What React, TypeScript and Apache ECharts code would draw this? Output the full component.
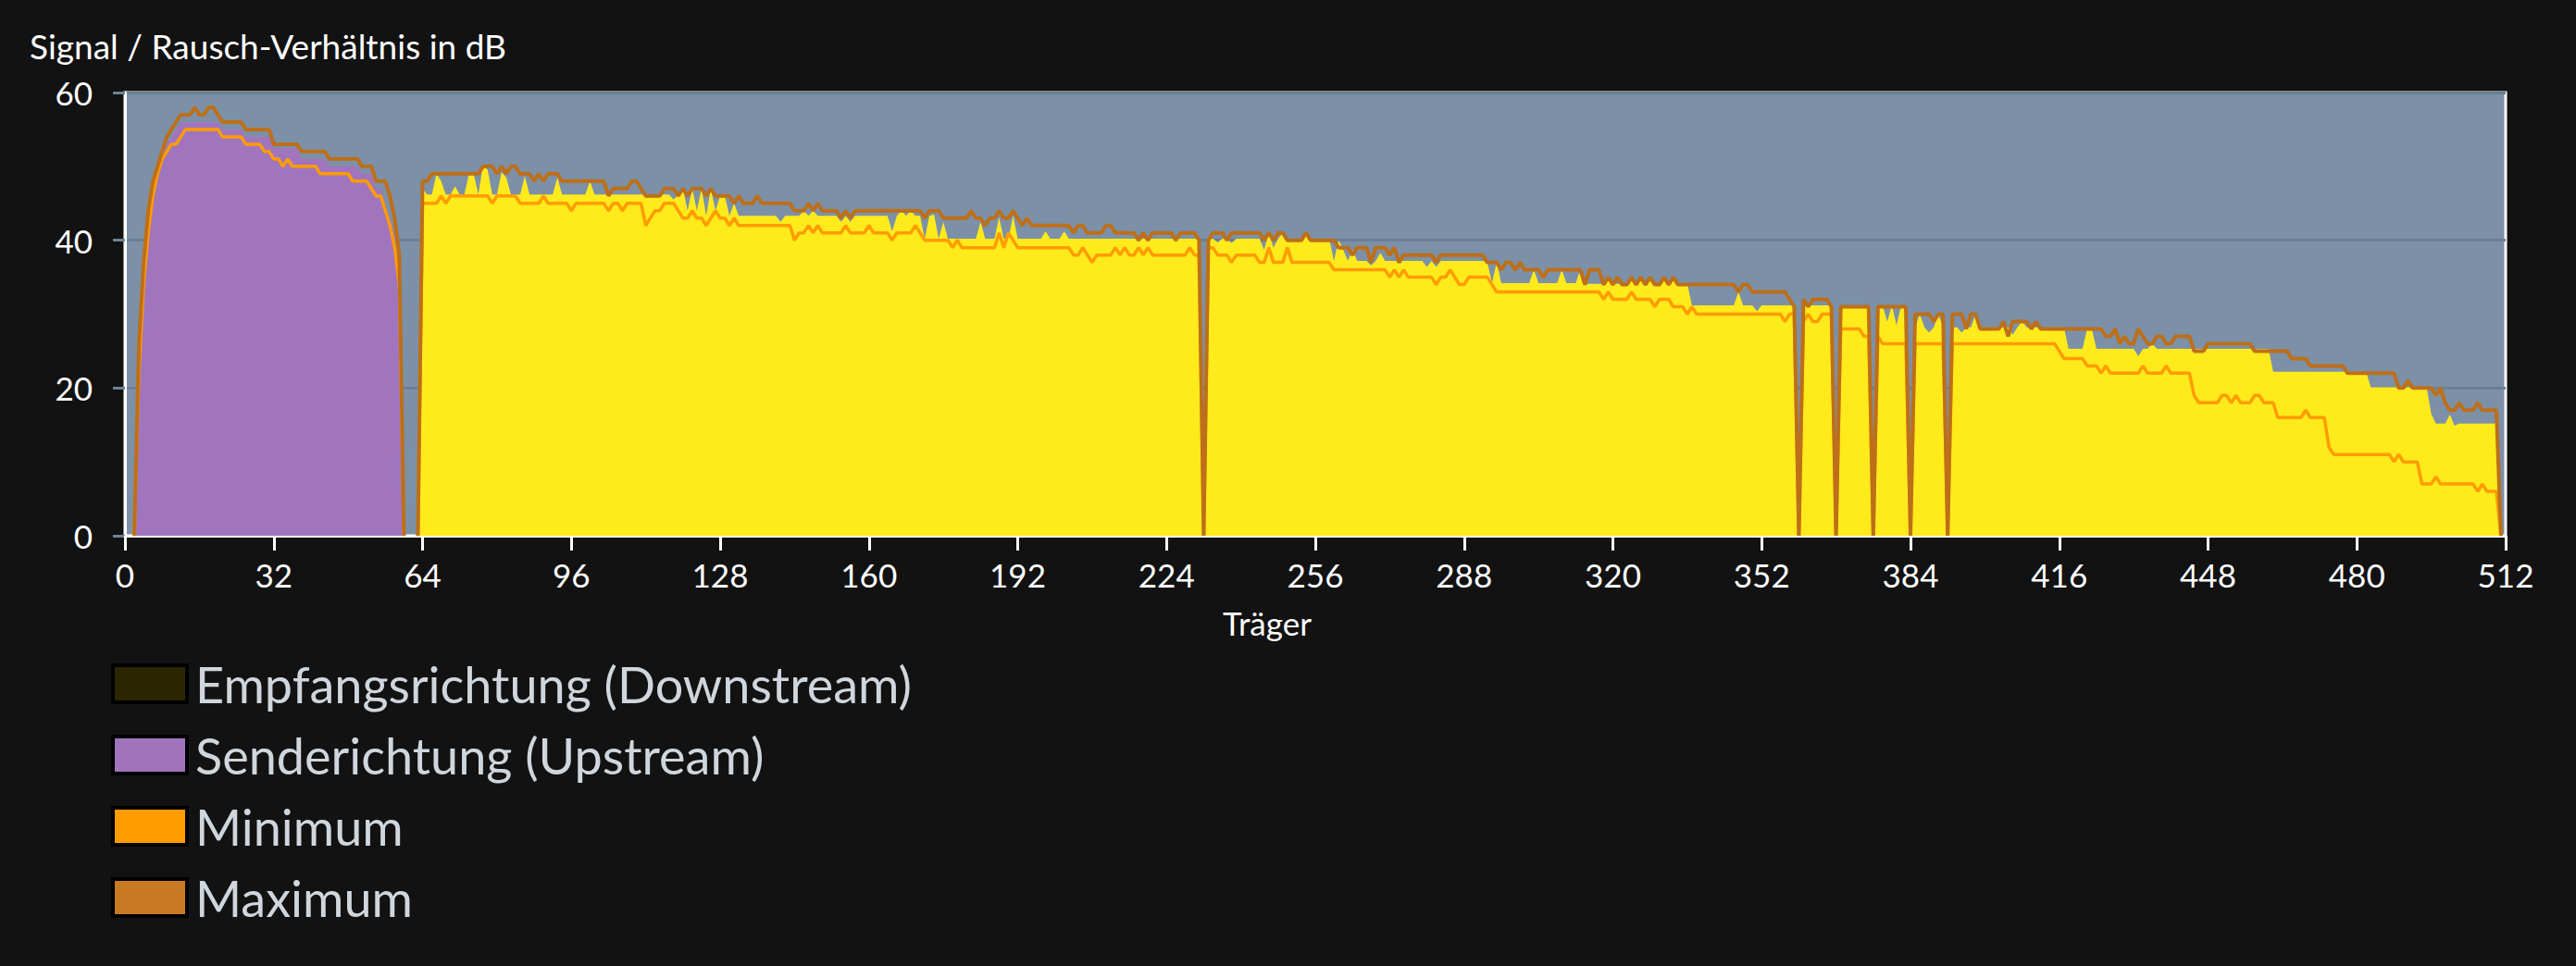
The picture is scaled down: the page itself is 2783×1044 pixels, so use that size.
import React, { useEffect, useRef } from "react";
import * as echarts from "echarts";

type Run = [number | null, number];

// Run-length lists per carrier index 0..511: [value, number of carriers]
const MAX_RUNS: Run[] = [
  [null, 2], [0, 1], [26, 1], [37, 1], [44, 1], [48, 1], [50, 1], [52, 1], [54, 1], [55, 1], [56, 1],
  [57, 3], [58, 1], [57, 2], [58, 2], [57, 1], [56, 5], [55, 6], [53, 6], [52, 6], [51, 7], [50, 3],
  [48, 3], [46, 1], [43, 1], [38, 1], [0, 1], [null, 2], [0, 1],
  [48, 2], [49, 11], [50, 3], [49, 1], [50, 1], [49, 1], [50, 2], [49, 3], [48, 1], [49, 1], [48, 1],
  [49, 3], [48, 10], [46, 1], [47, 4], [48, 2], [47, 1], [46, 4], [47, 3], [46, 1], [47, 1], [46, 1],
  [47, 3], [46, 1], [47, 1], [46, 4], [45, 1], [46, 1], [45, 3], [46, 1], [45, 7], [44, 3], [45, 1],
  [44, 1], [45, 1], [44, 4], [43, 1], [44, 1], [43, 1], [44, 15], [43, 1], [44, 3], [43, 6], [44, 1],
  [43, 2], [42, 1], [43, 2], [44, 1], [43, 2], [44, 1], [43, 1], [42, 1], [43, 1], [42, 9], [41, 1],
  [42, 2], [41, 4], [42, 2], [41, 5], [40, 1], [41, 1], [40, 1], [41, 5], [40, 1], [41, 4], [40, 1],
  [0, 1], [40, 1], [41, 3], [40, 1], [41, 6], [41, 1], [40, 1], [41, 1], [40, 1], [41, 2], [40, 4],
  [41, 1], [40, 6], [39, 3], [38, 1], [39, 3], [37, 1], [39, 3], [38, 1], [39, 1], [37, 1], [38, 7],
  [37, 1], [38, 10], [37, 3], [36, 1], [37, 2], [36, 1], [37, 1], [36, 4], [35, 1], [36, 8], [34, 1],
  [36, 3], [34, 1], [35, 1], [34, 1], [35, 1], [34, 2], [35, 1], [34, 1], [35, 1], [34, 1], [35, 1],
  [34, 2], [35, 1], [34, 1], [35, 1], [34, 13], [33, 1], [34, 2], [33, 8], [32, 1], [31, 1], [0, 1],
  [32, 1], [31, 1], [32, 4], [31, 1], [0, 1], [31, 7], [0, 1], [31, 7], [0, 1], [30, 4], [29, 1],
  [30, 2], [0, 1], [30, 3], [28, 1], [30, 2], [28, 5], [29, 1], [27, 1], [29, 4], [28, 1], [29, 1],
  [28, 14], [27, 2], [28, 1], [26, 1], [27, 1], [26, 2], [28, 1], [27, 1], [26, 2], [27, 2], [26, 2],
  [27, 4], [25, 3], [26, 10], [25, 8], [24, 4], [23, 8], [22, 11], [20, 2], [21, 1], [20, 5], [19, 1],
  [20, 1], [18, 1], [17, 2], [18, 1], [17, 3], [18, 1], [17, 4], [0, 1],
];

const MIN_RUNS: Run[] = [
  [null, 2], [0, 1], [22, 1], [34, 1], [41, 1], [46, 1], [49, 1], [51, 1], [52, 1], [53, 2], [54, 1],
  [55, 8], [54, 5], [53, 4], [52, 2], [51, 2], [50, 1], [51, 1], [50, 6], [49, 7], [48, 4], [47, 1],
  [46, 2], [44, 1], [42, 1], [39, 1], [34, 1], [0, 1], [null, 2], [0, 1],
  [45, 4], [46, 1], [45, 1], [46, 9], [45, 1], [46, 5], [45, 5], [46, 1], [45, 5], [44, 1], [45, 7],
  [44, 1], [45, 2], [44, 1], [45, 4], [42, 1], [43, 1], [44, 2], [45, 3], [44, 1], [43, 2], [44, 1],
  [43, 2], [42, 1], [43, 1], [44, 1], [43, 2], [42, 1], [43, 1], [42, 12], [40, 1], [41, 2], [42, 1],
  [41, 1], [42, 1], [41, 5], [42, 1], [41, 4], [42, 1], [41, 4], [40, 1], [41, 4], [42, 1], [41, 1],
  [40, 6], [39, 1], [40, 1], [39, 8], [41, 1], [39, 1], [41, 1], [40, 1], [39, 12], [38, 2], [39, 1],
  [38, 1], [37, 1], [38, 4], [39, 1], [38, 1], [39, 1], [38, 2], [39, 1], [38, 1], [39, 1], [38, 8],
  [39, 1], [38, 2], [0, 1], [39, 2], [38, 3], [37, 1], [38, 5], [37, 2], [39, 1], [37, 3], [39, 1],
  [37, 9], [36, 12], [35, 1], [36, 1], [35, 1], [36, 1], [35, 6], [34, 1], [35, 2], [36, 1], [35, 1],
  [34, 2], [35, 5], [34, 1], [33, 23], [32, 1], [33, 1], [32, 4], [33, 1], [32, 4], [31, 1], [32, 3],
  [31, 3], [30, 1], [31, 1], [30, 19], [29, 1], [30, 2], [0, 1], [29, 1], [30, 1], [29, 2], [30, 3],
  [0, 1], [28, 5], [27, 2], [0, 1], [27, 1], [26, 6], [0, 1], [26, 7], [0, 1], [26, 23], [25, 1],
  [24, 5], [23, 3], [22, 1], [23, 1], [22, 7], [23, 1], [22, 4], [23, 1], [22, 5], [19, 1], [18, 5],
  [19, 2], [18, 1], [19, 1], [18, 3], [19, 2], [18, 3], [16, 6], [17, 1], [16, 4], [12, 1], [11, 13],
  [10, 1], [11, 1], [10, 4], [7, 3], [8, 1], [7, 8], [6, 1], [7, 1], [6, 3], [0, 1],
];

const UPSTREAM_RUNS: Run[] = [
  [null, 2], [0, 1], [24, 1], [36, 1], [42, 1], [47, 1], [50, 1], [52, 1], [53, 1], [54, 1], [55, 1],
  [56, 9], [55, 5], [54, 6], [52.5, 6], [51, 6], [50, 7], [49, 3], [47, 2], [45, 1], [43, 1], [41, 1],
  [37, 1], [0, 1], [null, 451],
];

const DOWNSTREAM_RUNS: Run[] = [
  [null, 63], [0, 1], [47, 1], [46.2, 2], [49, 1], [48, 1], [46.2, 2], [47.3, 1], [46.2, 2], [49, 2],
  [46.2, 1], [50.2, 1], [49.5, 1], [46.2, 2], [49.2, 1], [48.5, 1], [46.2, 3], [48.7, 1], [46.2, 6],
  [48.5, 1], [46.2, 6], [48, 1], [46.2, 17], [45.5, 1], [46.2, 1], [47, 1], [44, 1], [47, 1], [44, 1],
  [47, 1], [43.3, 1], [47, 1], [44, 1], [46, 2], [43.3, 1], [45, 1], [43.3, 9], [42.5, 1], [43.3, 4],
  [44, 1], [43.3, 1], [44, 1], [43.3, 5], [42.5, 1], [43.3, 1], [42.5, 1], [43.3, 8], [41.2, 1],
  [43.3, 1], [44, 1], [43.3, 1], [44, 1], [43.3, 2], [40.2, 1], [43.3, 1], [43.5, 1], [40.2, 1],
  [42.5, 1], [40.2, 7], [42.5, 1], [40.2, 3], [43.1, 1], [40.2, 2], [43.3, 1], [40.2, 6], [41.2, 1],
  [40.2, 3], [41.2, 1], [40.2, 29], [0, 1], [40.2, 2], [39.7, 1], [40.2, 2], [39.6, 1], [40.2, 6],
  [38.7, 1], [41, 1], [39, 1], [40.2, 1], [41, 1], [40.2, 4], [41, 1], [40.2, 5], [37.2, 1], [40, 1],
  [38.7, 1], [37.2, 1], [38.7, 1], [37.2, 3], [36.6, 1], [37.2, 1], [38.3, 1], [37.2, 9], [36.4, 1],
  [37.2, 1], [36.4, 1], [37.2, 10], [37, 1], [34.2, 1], [37, 1], [34.2, 7], [36, 1], [34.2, 5],
  [36, 1], [34.2, 3], [36, 1], [34.1, 5], [35, 1], [34.1, 4], [35, 1], [34.1, 1], [35, 1], [34.1, 1],
  [35, 1], [34.1, 2], [35, 1], [34.1, 1], [35, 1], [34.1, 3], [31.2, 10], [33, 1], [31.2, 3],
  [30.4, 1], [31.2, 8], [0, 1], [31.2, 7], [0, 1], [31.2, 7], [0, 1], [31.2, 2], [29, 1], [31.2, 1],
  [28.5, 1], [31.2, 2], [0, 1], [28.2, 1], [30, 1], [28.2, 1], [27.5, 1], [28.2, 1], [30, 1],
  [28.2, 1], [0, 1], [28.2, 2], [27.5, 1], [28.2, 2], [30, 1], [28.2, 7], [27.2, 1], [28.2, 1],
  [29, 1], [28.2, 4], [28, 1], [28.2, 4], [25.3, 4], [28, 2], [25.3, 9], [24.3, 1], [25.3, 2],
  [26, 1], [25.3, 25], [22.2, 21], [20.1, 13], [16.5, 1], [15.2, 3], [16.4, 1], [14.9, 1], [15.2, 9],
  [0, 1],
];

const X_MIN = 0;
const X_MAX = 512;
const X_STEP = 32;
const Y_MIN = 0;
const Y_MAX = 60;
const Y_STEP = 20;

const NAME_DOWN = "Empfangsrichtung (Downstream)";
const NAME_UP = "Senderichtung (Upstream)";
const NAME_MIN = "Minimum";
const NAME_MAX = "Maximum";

function expand(runs: Run[]): (number | null)[] {
  const out: (number | null)[] = [];
  for (const [v, n] of runs) for (let i = 0; i < n; i++) out.push(v);
  return out;
}

function points(runs: Run[]) {
  return expand(runs).map((v, i) => [i, v === null ? "-" : v]);
}

const FONT = "Lato";

export default function App() {
  const ref = useRef<HTMLDivElement>(null);
  useEffect(() => {
    document.body.style.margin = "0";
    document.body.style.background = "#121212";
    const chart = echarts.init(ref.current!, null, { renderer: "svg" });
    chart.setOption({
      animation: false,
      backgroundColor: "#121212",
      textStyle: { fontFamily: FONT },
      title: {
        text: "Signal / Rausch-Verhältnis in dB",
        left: 32,
        top: 31,
        padding: 0,
        textStyle: { color: "#ffffff", fontSize: 37, fontWeight: "normal", fontFamily: FONT },
      },
      grid: {
        left: 135,
        top: 100,
        width: 2572,
        height: 479,
        show: true,
        backgroundColor: "#7c91a8",
        borderColor: "#ffffff",
        borderWidth: 3,
        containLabel: false,
      },
      xAxis: {
        type: "value",
        min: X_MIN,
        max: X_MAX,
        interval: X_STEP,
        name: "Träger",
        nameLocation: "middle",
        nameGap: 76,
        nameTextStyle: { color: "#ffffff", fontSize: 35, fontFamily: FONT, padding: [0, 104, 0, 0] },
        axisLine: { show: true, lineStyle: { color: "#ffffff", width: 3 } },
        axisTick: { show: true, length: 16, lineStyle: { color: "#ffffff", width: 3 } },
        axisLabel: { color: "#ffffff", fontSize: 35, margin: 24, fontFamily: FONT },
        splitLine: { show: false },
      },
      yAxis: {
        type: "value",
        min: Y_MIN,
        max: Y_MAX,
        interval: Y_STEP,
        axisLine: { show: true, lineStyle: { color: "#ffffff", width: 3 } },
        axisTick: { show: true, length: 13, lineStyle: { color: "#6f8296", width: 3 } },
        axisLabel: { color: "#ffffff", fontSize: 35, margin: 35, fontFamily: FONT },
        splitLine: { show: true, lineStyle: { color: "#6b8095", width: 3 } },
      },
      legend: {
        orient: "vertical",
        left: 120,
        top: 712,
        padding: 0,
        itemWidth: 80,
        itemHeight: 40,
        itemGap: 23,
        icon: "rect",
        itemStyle: { borderColor: "#000000", borderWidth: 4 },
        textStyle: { color: "#cfd6dd", fontSize: 54, fontFamily: FONT, padding: [0, 0, 0, 4] },
        data: [
          { name: NAME_DOWN, itemStyle: { color: "#2c2603" } },
          { name: NAME_UP, itemStyle: { color: "#a074bc" } },
          { name: NAME_MIN, itemStyle: { color: "#ff9c00" } },
          { name: NAME_MAX, itemStyle: { color: "#c87a22" } },
        ],
      },
      series: [
        {
          name: NAME_DOWN,
          type: "line",
          data: points(DOWNSTREAM_RUNS),
          symbol: "none",
          showSymbol: false,
          color: "#2c2603",
          lineStyle: { width: 0, color: "#ffea1c" },
          areaStyle: { color: "#ffea1c", opacity: 1 },
        },
        {
          name: NAME_UP,
          type: "line",
          data: points(UPSTREAM_RUNS),
          symbol: "none",
          showSymbol: false,
          color: "#a074bc",
          lineStyle: { width: 0, color: "#a175bd" },
          areaStyle: { color: "#a175bd", opacity: 1 },
        },
        {
          name: NAME_MIN,
          type: "line",
          data: points(MIN_RUNS),
          symbol: "none",
          showSymbol: false,
          color: "#ff9c00",
          lineStyle: { width: 3.5, color: "#ff9c00" },
        },
        {
          name: NAME_MAX,
          type: "line",
          data: points(MAX_RUNS),
          symbol: "none",
          showSymbol: false,
          color: "#c87a22",
          lineStyle: { width: 4, color: "#bd6f19" },
        },
      ],
    });
    return () => chart.dispose();
  }, []);
  return <div ref={ref} style={{ width: 2783, height: 1044 }} />;
}
